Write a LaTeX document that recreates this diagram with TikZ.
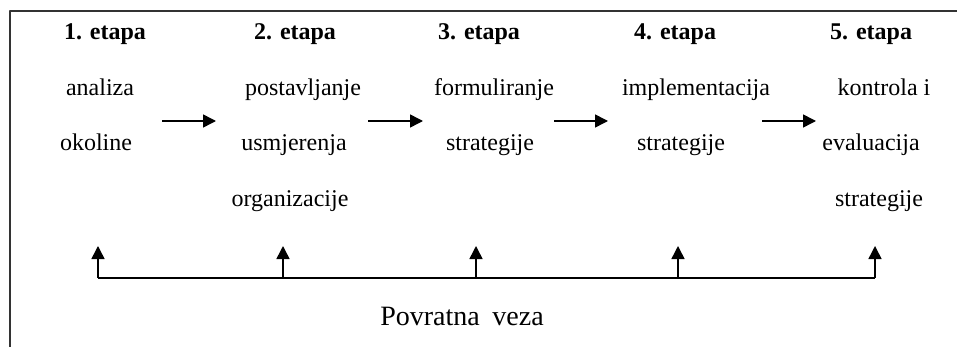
\documentclass[tikz,border=0pt]{standalone}
\usepackage{fontspec}
\setmainfont{Liberation Serif}
\usetikzlibrary{arrows.meta}
\begin{document}
\begin{tikzpicture}[x=0.5pt, y=-0.5pt, line join=round, >={Triangle[length=6.5pt, width=6.5pt]},
    every node/.style={inner sep=0pt, anchor=base, font=\fontsize{12}{14}\selectfont},
    etapa/.style={font=\fontsize{12}{14}\selectfont\bfseries},
    tok/.style={line width=0.75pt}]
    \useasboundingbox (0,0) rectangle (957,347);
    % okvir
    \draw[line width=0.9pt, black!80] (957,11) -- (10,11) -- (10,347);
    % etape
    \node[etapa] (h1) at (105,40) {1. etapa};
    \node[etapa] (h2) at (295,40) {2. etapa};
    \node[etapa] (h3) at (479,40) {3. etapa};
    \node[etapa] (h4) at (675,40) {4. etapa};
    \node[etapa] (h5) at (871,40) {5. etapa};
    % opisi
    \node (a1) at (100,96) {analiza};
    \node (b1) at (96,151) {okoline};
    \node (a2) at (303,96) {postavljanje};
    \node (b2) at (294,151) {usmjerenja};
    \node (c2) at (290,206) {organizacije};
    \node (a3) at (494,96) {formuliranje};
    \node (b3) at (490,151) {strategije};
    \node (a4) at (696,96) {implementacija};
    \node (b4) at (681,151) {strategije};
    \node (a5) at (884,96) {kontrola i};
    \node (b5) at (871,151) {evaluacija};
    \node (c5) at (879,206) {strategije};
    % strelice izmedju etapa
    \coordinate (s1) at (162,121); \coordinate (e1) at (216,121);
    \coordinate (s2) at (368,121); \coordinate (e2) at (423,121);
    \coordinate (s3) at (554,121); \coordinate (e3) at (608,121);
    \coordinate (s4) at (762,121); \coordinate (e4) at (816,121);
    \foreach \i in {1,...,4}
        \draw[tok, ->] (s\i) -- (e\i);
    % povratna veza
    \coordinate (f1) at (98,278);  \coordinate (t1) at (98,246);
    \coordinate (f2) at (283,278); \coordinate (t2) at (283,246);
    \coordinate (f3) at (476,278); \coordinate (t3) at (476,246);
    \coordinate (f4) at (678,278); \coordinate (t4) at (678,246);
    \coordinate (f5) at (875,278); \coordinate (t5) at (875,246);
    \draw[tok] (f1) -- (f5);
    \foreach \i in {1,...,5}
        \draw[tok, ->] (f\i) -- (t\i);
    \node[font=\fontsize{14}{16}\selectfont] (pv) at (462,325) {Povratna\hspace{0.45em}veza};
\end{tikzpicture}
\end{document}
